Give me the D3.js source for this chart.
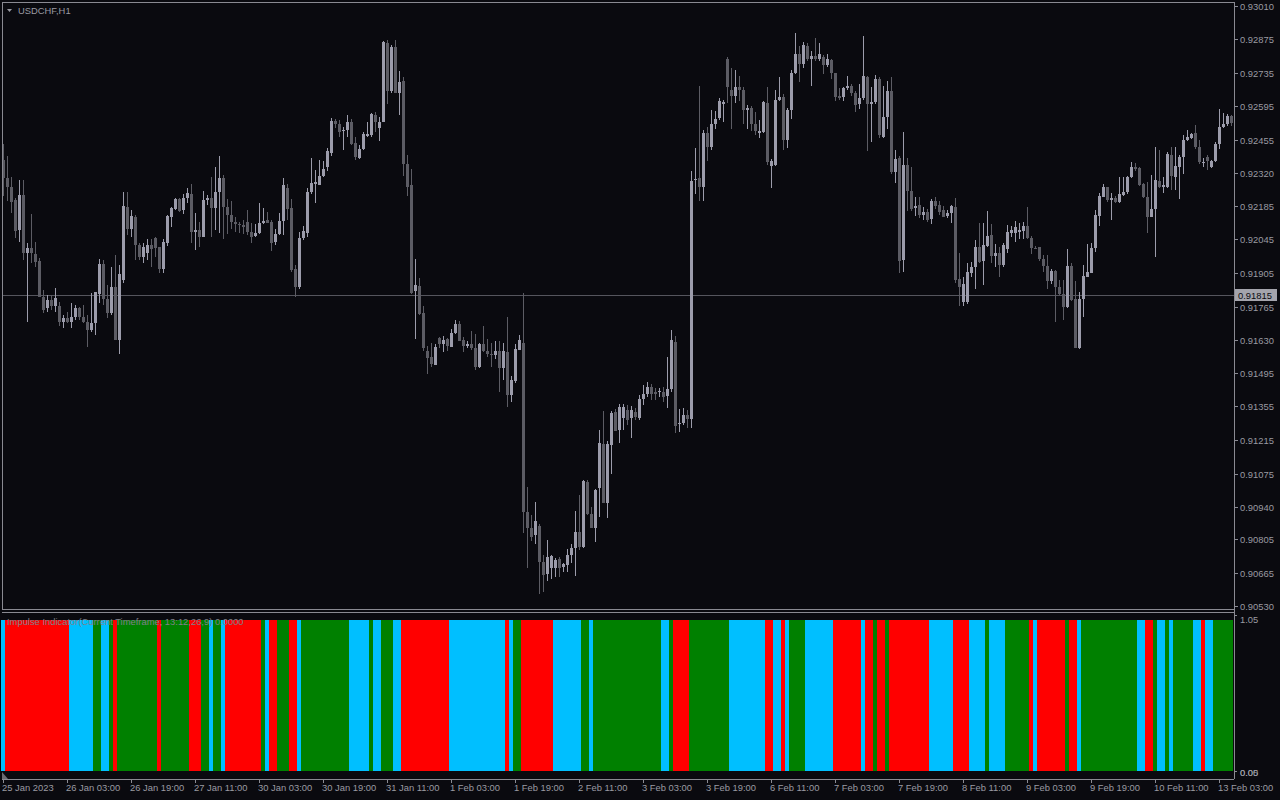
<!DOCTYPE html>
<html><head><meta charset="utf-8">
<script src="https://cdn.jsdelivr.net/npm/d3@7"></script>
<style>html,body{margin:0;padding:0;background:#0a0a0f;overflow:hidden}</style>
</head><body><svg id="c" width="1280" height="800"></svg>
<script>
const symbolTitle = "USDCHF,H1";
const indicatorTitle = "Impulse Indicator(Current Timeframe, 13:12,26,9) 0.0000";
const priceTicks = [0.93010,0.92875,0.92735,0.92595,0.92455,0.92320,0.92185,0.92045,0.91905,0.91765,0.91630,0.91495,0.91355,0.91215,0.91075,0.90940,0.90805,0.90665,0.90530];
const currentPrice = 0.91815;
const timeLabels = ["25 Jan 2023","26 Jan 03:00","26 Jan 19:00","27 Jan 11:00","30 Jan 03:00","30 Jan 19:00","31 Jan 11:00","1 Feb 03:00","1 Feb 19:00","2 Feb 11:00","3 Feb 03:00","3 Feb 19:00","6 Feb 11:00","7 Feb 03:00","7 Feb 19:00","8 Feb 11:00","9 Feb 03:00","9 Feb 19:00","10 Feb 11:00","13 Feb 03:00"];
const timeLabelBars = [0,16,32,48,64,80,96,112,128,144,160,176,192,208,224,240,256,272,288,304];
const indicatorTicks = ["1.05","0.05","0.00"];

const open = [
.92374,.92299,.92262,.92208,.92084,.92229,.91990,.92010,.91985,.91956,
.91807,.91762,.91795,.91770,.91770,.91704,.91720,.91704,.91725,.91762,
.91725,.91704,.91671,.91700,.91820,.91944,.91799,.91742,.91849,.91630,
.91878,.92179,.92088,.92138,.92022,.91973,.91990,.92022,.92051,.92014,
.91923,.92031,.92138,.92171,.92212,.92167,.92217,.92233,.92076,.92084,
.92055,.92208,.92217,.92175,.92241,.92299,.92179,.92146,.92117,.92109,
.92105,.92117,.92076,.92060,.92072,.92113,.92126,.92117,.92035,.92068,
.92121,.92258,.92175,.91923,.91849,.92051,.92072,.92241,.92274,.92270,
.92307,.92344,.92403,.92535,.92522,.92494,.92498,.92531,.92444,.92382,
.92419,.92473,.92477,.92560,.92506,.92531,.92857,.92659,.92841,.92651,
.92700,.92357,.92270,.91832,.91853,.91742,.91584,.91559,.91526,.91638,
.91613,.91634,.91600,.91658,.91696,.91630,.91605,.91613,.91597,.91518,
.91613,.91584,.91572,.91568,.91584,.91514,.91580,.91403,.91460,.91588,
.91617,.90919,.90853,.90824,.90861,.90712,.90662,.90687,.90687,.90724,
.90691,.90700,.90741,.90770,.90836,.90774,.91043,.90910,.90853,.91018,
.91200,.90956,.91196,.91332,.91258,.91307,.91340,.91307,.91332,.91307,
.91386,.91407,.91436,.91415,.91415,.91415,.91398,.91427,.91621,.91283,
.91287,.91320,.91303,.92291,.92299,.92262,.92485,.92428,.92522,.92547,
.92605,.92791,.92663,.92638,.92675,.92663,.92580,.92589,.92522,.92485,
.92489,.92609,.92349,.92353,.92622,.92634,.92456,.92580,.92733,.92812,
.92771,.92845,.92791,.92804,.92791,.92799,.92766,.92787,.92733,.92638,
.92634,.92671,.92680,.92651,.92605,.92630,.92717,.92605,.92613,.92709,
.92469,.92552,.92659,.92324,.92382,.91960,.92353,.92246,.92175,.92188,
.92146,.92159,.92130,.92204,.92188,.92167,.92142,.92155,.92179,.91882,
.91787,.91787,.91907,.91931,.92014,.91956,.92018,.92064,.91977,.91990,
.91940,.92006,.92072,.92072,.92076,.92080,.92101,.92051,.92010,.92014,
.91964,.91936,.91873,.91915,.91849,.91820,.91766,.91936,.91799,.91597,
.91799,.91890,.91907,.92010,.92142,.92221,.92262,.92208,.92217,.92200,
.92229,.92241,.92303,.92344,.92340,.92274,.92221,.92138,.92171,.92287,
.92262,.92262,.92394,.92303,.92344,.92386,.92456,.92465,.92485,.92428,
.92361,.92386,.92344,.92370,.92440,.92510,.92522,.92556];

const high = [
.92439,.92390,.92303,.92217,.92291,.92291,.92031,.92150,.92035,.91968,
.91836,.91815,.91815,.91844,.91787,.91733,.91746,.91783,.91774,.91766,
.91774,.91733,.91824,.91828,.91964,.91960,.91857,.91931,.91981,.91940,
.92241,.92241,.92167,.92146,.92031,.92031,.92047,.92047,.92055,.92014,
.92047,.92146,.92179,.92217,.92217,.92233,.92258,.92274,.92155,.92117,
.92246,.92229,.92303,.92344,.92390,.92312,.92212,.92204,.92138,.92117,
.92126,.92167,.92113,.92109,.92196,.92175,.92159,.92126,.92088,.92155,
.92299,.92274,.92212,.91940,.92076,.92101,.92258,.92382,.92332,.92374,
.92370,.92423,.92547,.92543,.92539,.92510,.92559,.92543,.92469,.92436,
.92489,.92531,.92568,.92572,.92552,.92866,.92870,.92849,.92870,.92742,
.92717,.92394,.92336,.91964,.91886,.91770,.91605,.91617,.91613,.91642,
.91646,.91638,.91675,.91712,.91708,.91642,.91626,.91667,.91654,.91617,
.91687,.91634,.91617,.91626,.91626,.91617,.91725,.91481,.91613,.91650,
.91824,.91022,.90907,.90960,.90869,.90741,.90804,.90741,.90728,.90733,
.90708,.90766,.90786,.90923,.90989,.91051,.91051,.90939,.91014,.91258,
.91336,.91212,.91336,.91345,.91365,.91365,.91361,.91357,.91349,.91403,
.91444,.91456,.91448,.91431,.91431,.91436,.91559,.91671,.91646,.91345,
.91349,.91340,.92328,.92423,.92680,.92498,.92510,.92580,.92576,.92630,
.92622,.92799,.92754,.92746,.92721,.92675,.92601,.92597,.92572,.92539,
.92617,.92675,.92378,.92663,.92717,.92646,.92589,.92746,.92899,.92845,
.92861,.92857,.92824,.92878,.92857,.92808,.92812,.92791,.92733,.92671,
.92675,.92721,.92688,.92659,.92688,.92886,.92721,.92675,.92725,.92717,
.92680,.92700,.92717,.92415,.92390,.92489,.92382,.92344,.92221,.92221,
.92179,.92171,.92212,.92221,.92204,.92183,.92167,.92188,.92217,.91990,
.91890,.91948,.91952,.92043,.92113,.92113,.92163,.92109,.92027,.92014,
.92031,.92105,.92101,.92121,.92113,.92117,.92179,.92060,.92018,.92014,
.91981,.91981,.91923,.91919,.91878,.91878,.92006,.91948,.91873,.91828,
.91940,.92027,.92031,.92167,.92237,.92274,.92262,.92237,.92225,.92303,
.92303,.92307,.92365,.92361,.92344,.92279,.92283,.92312,.92428,.92415,
.92303,.92407,.92428,.92428,.92394,.92477,.92498,.92485,.92518,.92456,
.92382,.92394,.92374,.92448,.92584,.92568,.92564,.92560];

const low = [
.92225,.92204,.92155,.92051,.92035,.91960,.91704,.91948,.91931,.91807,
.91742,.91746,.91754,.91746,.91687,.91679,.91700,.91679,.91712,.91712,
.91700,.91600,.91663,.91650,.91783,.91774,.91720,.91733,.91630,.91571,
.91865,.92064,.92055,.91960,.91960,.91948,.91960,.91931,.91973,.91907,
.91907,.92019,.92097,.92167,.92159,.92150,.92196,.92031,.92002,.92014,
.92055,.92188,.92055,.92084,.92072,.92047,.92068,.92088,.92076,.92072,
.92068,.92064,.92031,.92055,.92068,.92109,.92113,.91998,.92022,.92064,
.92064,.92126,.91911,.91807,.91841,.92043,.92055,.92233,.92196,.92270,
.92303,.92328,.92390,.92506,.92469,.92415,.92469,.92436,.92374,.92378,
.92415,.92469,.92469,.92489,.92452,.92531,.92605,.92651,.92651,.92560,
.92307,.92225,.91820,.91634,.91733,.91584,.91489,.91518,.91526,.91597,
.91580,.91584,.91600,.91654,.91626,.91580,.91597,.91588,.91506,.91514,
.91580,.91559,.91518,.91551,.91415,.91464,.91353,.91373,.91452,.91588,
.90832,.90687,.90799,.90786,.90580,.90588,.90633,.90642,.90650,.90650,
.90671,.90671,.90708,.90654,.90762,.90770,.90906,.90853,.90795,.90898,
.90956,.90894,.91076,.91254,.91204,.91258,.91278,.91225,.91299,.91299,
.91361,.91394,.91382,.91382,.91394,.91373,.91349,.91415,.91245,.91249,
.91278,.91266,.91266,.92233,.92204,.92204,.92370,.92415,.92502,.92539,
.92531,.92609,.92502,.92609,.92617,.92522,.92502,.92494,.92477,.92465,
.92485,.92353,.92258,.92349,.92617,.92415,.92423,.92543,.92729,.92696,
.92754,.92783,.92680,.92783,.92783,.92729,.92758,.92709,.92617,.92622,
.92617,.92663,.92638,.92572,.92584,.92622,.92411,.92448,.92605,.92465,
.92465,.92502,.92316,.92279,.91906,.91911,.92163,.92163,.92142,.92134,
.92126,.92117,.92109,.92171,.92146,.92138,.92134,.92113,.91865,.91770,
.91770,.91779,.91890,.91841,.91948,.91857,.92014,.91948,.91931,.91890,
.91931,.91990,.92055,.92035,.92047,.92047,.92047,.91985,.92006,.91956,
.91911,.91841,.91861,.91704,.91816,.91712,.91762,.91791,.91597,.91593,
.91725,.91890,.91907,.91994,.92101,.92221,.92200,.92126,.92196,.92196,
.92225,.92233,.92299,.92328,.92266,.92217,.92072,.92138,.91973,.92258,
.92237,.92258,.92250,.92250,.92212,.92316,.92452,.92460,.92419,.92357,
.92344,.92332,.92340,.92366,.92419,.92506,.92514,.92514];

const close = [
.92299,.92262,.92200,.92080,.92229,.91990,.92010,.91990,.91952,.91807,
.91754,.91795,.91770,.91803,.91704,.91720,.91704,.91725,.91762,.91725,
.91704,.91671,.91700,.91828,.91944,.91799,.91742,.91849,.91630,.91902,
.92183,.92088,.92142,.92022,.91973,.92014,.92022,.92006,.92010,.91923,
.92035,.92142,.92175,.92212,.92163,.92217,.92237,.92076,.92084,.92055,
.92208,.92217,.92175,.92241,.92299,.92179,.92146,.92117,.92109,.92105,
.92097,.92076,.92055,.92072,.92113,.92121,.92113,.92031,.92068,.92121,
.92270,.92171,.91919,.91849,.92051,.92080,.92241,.92279,.92283,.92307,
.92336,.92411,.92535,.92522,.92489,.92498,.92531,.92440,.92386,.92419,
.92481,.92481,.92564,.92531,.92531,.92861,.92659,.92841,.92651,.92696,
.92357,.92262,.91824,.91857,.91737,.91597,.91555,.91530,.91600,.91613,
.91630,.91605,.91658,.91696,.91626,.91605,.91613,.91597,.91518,.91613,
.91584,.91572,.91568,.91584,.91514,.91584,.91403,.91464,.91592,.91630,
.90919,.90853,.90816,.90882,.90712,.90658,.90733,.90737,.90720,.90687,
.90704,.90741,.90770,.90836,.90774,.91047,.90910,.90853,.91010,.91204,
.90956,.91200,.91328,.91254,.91353,.91353,.91299,.91340,.91311,.91386,
.91407,.91436,.91407,.91407,.91419,.91394,.91427,.91630,.91274,.91287,
.91320,.91303,.92287,.92295,.92262,.92485,.92428,.92522,.92543,.92617,
.92613,.92675,.92638,.92675,.92663,.92580,.92589,.92522,.92494,.92494,
.92613,.92366,.92370,.92622,.92634,.92456,.92580,.92733,.92812,.92771,
.92849,.92791,.92804,.92791,.92812,.92766,.92791,.92733,.92634,.92630,
.92671,.92680,.92651,.92601,.92630,.92721,.92605,.92613,.92709,.92477,
.92552,.92659,.92324,.92378,.91956,.92353,.92246,.92171,.92183,.92146,
.92159,.92126,.92204,.92183,.92159,.92138,.92155,.92183,.91878,.91849,
.91861,.91911,.91931,.92014,.91952,.92022,.92060,.91977,.91990,.91940,
.92022,.92076,.92084,.92097,.92084,.92101,.92051,.92010,.92006,.91964,
.91936,.91873,.91915,.91849,.91820,.91766,.91936,.91795,.91597,.91799,
.91894,.91911,.92010,.92146,.92225,.92262,.92208,.92217,.92200,.92233,
.92241,.92303,.92344,.92336,.92270,.92221,.92138,.92171,.92291,.92262,
.92270,.92398,.92307,.92349,.92386,.92456,.92469,.92481,.92428,.92366,
.92366,.92370,.92370,.92440,.92510,.92522,.92556,.92527];

// Impulse state per bar: R = falling, B = neutral, G = rising (runs written in bar order)
const impulseRuns = [
"B","RRRRRRRRRRRRRRRR","BBBBBB","GG","BB","G","R","GGGGGGGGGG","R","GGGGGGG","RRR","GG","B","GG","B",
"RRRRRRRRR","G","B","RR","GGG","RR","B","GGGGGGGGGGGG","BBBBB","G","BB","GGG","BB",
"RRRRRRRRRRRR","BBBBBBBBBBBBBB","R","B","GG","RRRRRRRR","BBBBBBB","GG","B",
"GGGGGGGGGGGGGGGGG","BB","G","RRRR","GGGGGGGGGG","BBBBBBBBB","RR","BB","R","B","GGGG","BBBBBBB",
"RRRRRRR","B","RR","G","RR","G","RRRRRRRRRR","BBBBBB","RRRR","BBBB","G","BBBB","GGGGGG","R","B",
"RRRRRRR","G","RR","B","GGGGGGGGGGGGGG","BB","RR","G","BB","G","B","GGGGG","BB","R","BB","GGGGG"];
const impulseState = impulseRuns.join("").split("");
const impulseLevel = 1;
const impulseColors = {R:"#ff0000", B:"#00bfff", G:"#008000"};

const W = 1280, H = 800;
const svg = d3.select("#c");
const FONT = "'Liberation Sans', Arial, sans-serif";
const textCol = "#9a9aa2", frameCol = "#8a8a92";
const upCol = "#9c9cab", downCol = "#5c5c64";

const pane = {left:2, right:1234, top:2, bottom:609};
const ipane = {top:612, bottom:779};

const x = d3.scaleLinear().domain([0, 307]).range([3.3, 1231.3]);
const y = d3.scaleLinear().domain([0.90530, 0.93010]).range([606, 6]);
const yi = d3.scaleLinear().domain([0, 1]).range([771, 620]);

svg.append("rect").attr("width", W).attr("height", H).attr("fill", "#0a0a0f");

// indicator bars
const bars = d3.range(open.length);
svg.append("g").selectAll("rect").data(bars).join("rect")
  .attr("x", i => Math.round(x(i)) - 2)
  .attr("width", 4)
  .attr("y", yi(impulseLevel))
  .attr("height", yi(0) - yi(impulseLevel))
  .attr("fill", i => impulseColors[impulseState[i]] || "#000")
  .attr("shape-rendering", "crispEdges");

// current price line
const cpY = Math.round(y(currentPrice)) + 0.5;
svg.append("line").attr("x1", pane.left).attr("x2", pane.right).attr("y1", cpY).attr("y2", cpY)
  .attr("stroke", "#55555d").attr("stroke-width", 1);

// candles
const cg = svg.append("g").attr("shape-rendering", "crispEdges");
bars.forEach(i => {
  const cx = Math.round(x(i));
  const up = close[i] >= open[i];
  const col = up ? upCol : downCol;
  const hi = Math.max(high[i], open[i], close[i]);
  const lo = Math.min(low[i], open[i], close[i]);
  cg.append("rect").attr("x", cx).attr("width", 1)
    .attr("y", Math.round(y(hi))).attr("height", Math.max(1, Math.round(y(lo)) - Math.round(y(hi))))
    .attr("fill", col);
  const bt = Math.round(y(Math.max(open[i], close[i])));
  const bb = Math.round(y(Math.min(open[i], close[i])));
  cg.append("rect").attr("x", cx - 1).attr("width", 3)
    .attr("y", bt).attr("height", Math.max(1, bb - bt))
    .attr("fill", col);
});

// frames
const fg = svg.append("g").attr("stroke", frameCol).attr("stroke-width", 1).attr("shape-rendering", "crispEdges").attr("fill", "none");
fg.append("line").attr("x1", pane.left).attr("x2", pane.right).attr("y1", pane.top).attr("y2", pane.top);
fg.append("line").attr("x1", pane.left).attr("x2", pane.left).attr("y1", pane.top).attr("y2", pane.bottom);
fg.append("line").attr("x1", pane.left).attr("x2", pane.right).attr("y1", pane.bottom).attr("y2", pane.bottom);
fg.append("line").attr("x1", pane.left).attr("x2", pane.right).attr("y1", ipane.top).attr("y2", ipane.top);
fg.append("line").attr("x1", pane.right).attr("x2", pane.right).attr("y1", pane.top).attr("y2", ipane.bottom);
fg.append("line").attr("x1", pane.left).attr("x2", pane.right).attr("y1", ipane.bottom).attr("y2", ipane.bottom);

// price axis
const pa = svg.append("g");
priceTicks.forEach(v => {
  const ty = Math.round(y(v));
  pa.append("line").attr("x1", pane.right).attr("x2", pane.right + 4).attr("y1", ty + 0.5).attr("y2", ty + 0.5)
    .attr("stroke", frameCol).attr("shape-rendering", "crispEdges");
  pa.append("text").attr("x", 1240).attr("y", ty + 3.5).text(v.toFixed(5))
    .attr("fill", textCol).attr("font-family", FONT).attr("font-size", 9.4);
});
// current price label
pa.append("rect").attr("x", 1235).attr("y", cpY - 6.5).attr("width", 42).attr("height", 12).attr("fill", "#a4a4ac");
pa.append("text").attr("x", 1238).attr("y", cpY + 3.5).text(currentPrice.toFixed(5))
  .attr("fill", "#0a0a0f").attr("font-family", FONT).attr("font-size", 9.4);

// indicator axis labels
const ia = svg.append("g").attr("font-family", FONT).attr("font-size", 9.4).attr("fill", textCol);
ia.append("text").attr("x", 1240).attr("y", 622.5).text(indicatorTicks[0]);
ia.append("text").attr("x", 1240).attr("y", 775.5).text(indicatorTicks[1]);
ia.append("text").attr("x", 1240).attr("y", 775.5).text(indicatorTicks[2]);
[615.5, 771.5].forEach(ty => svg.append("line").attr("x1", pane.right).attr("x2", pane.right + 3)
  .attr("y1", ty).attr("y2", ty).attr("stroke", frameCol).attr("shape-rendering", "crispEdges"));

// time axis
const ta = svg.append("g");
timeLabels.forEach((t, k) => {
  const tx = Math.round(x(timeLabelBars[k])) + 0.5;
  ta.append("line").attr("x1", tx).attr("x2", tx).attr("y1", ipane.bottom).attr("y2", ipane.bottom + 4)
    .attr("stroke", frameCol).attr("shape-rendering", "crispEdges");
  ta.append("text").attr("x", tx - 1.5).attr("y", 791).text(t)
    .attr("fill", textCol).attr("font-family", FONT).attr("font-size", 9.4);
});
svg.append("path").attr("d", "M2,772 L2,779 L8,779 Z").attr("fill", "#6a6a72");

// titles
svg.append("path").attr("d", "M7,9 L12,9 L9.5,12 Z").attr("fill", textCol);
svg.append("text").attr("x", 18).attr("y", 13.5).text(symbolTitle)
  .attr("fill", textCol).attr("font-family", FONT).attr("font-size", 9.4);
svg.append("text").attr("x", 7).attr("y", 624.5).text(indicatorTitle)
  .attr("fill", "#80808a").attr("font-family", FONT).attr("font-size", 9.4);
console.log(open.length, high.length, low.length, close.length, impulseState.length);
</script></body></html>
